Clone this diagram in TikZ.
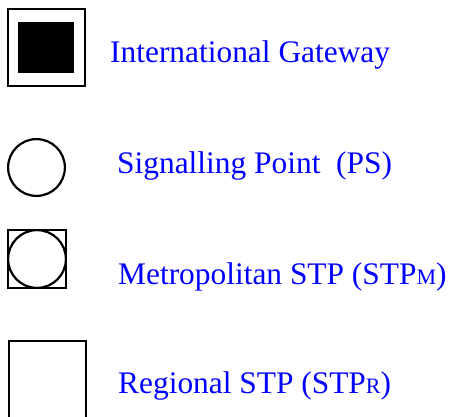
\documentclass[tikz,border=0pt]{standalone}
\usepackage{fontspec}
\setmainfont{Liberation Serif}
\usetikzlibrary{positioning}
\definecolor{labelblue}{RGB}{0,0,255}

\begin{document}
\begin{tikzpicture}[
  x=1pt, y=-1pt,
  symbol/.style={draw=black, line width=2.2pt, inner sep=0pt},
  squarebox/.style={symbol, rectangle, minimum size=#1},
  roundbox/.style={symbol, circle, minimum size=#1},
  legend/.style={anchor=base west, inner sep=0pt, text=labelblue,
                 font=\fontsize{31.4}{36}\selectfont}
]
  \clip (0,0) rectangle (454,416);

  % international gateway
  \node[squarebox=77.1pt] (gw) at (46.4,47.8) {};
  \node[fill=black, inner sep=0pt, minimum width=56.6pt, minimum height=51.3pt] (gwcore) at (46,47.7) {};
  \node[legend] (gwtext) at (110,62) {International Gateway};

  % signalling point
  \node[roundbox=56.8pt] (sp) at (36.5,167.5) {};
  \node[legend] (sptext) at (117,173) {Signalling Point\ \ (PS)};

  % metropolitan STP
  \node[squarebox=57.8pt] (stpm) at (37,259) {};
  \node[roundbox=57.8pt] (stpmring) at (stpm.center) {};
  \node[legend] (stpmtext) at (118,284) {Metropolitan STP (STP{\fontsize{22}{24}\selectfont M})};

  % regional STP
  \node[symbol, rectangle, minimum width=77.1pt, minimum height=90pt, anchor=north west] (stpr) at (7.8,340.1) {};
  \node[legend] (stprtext) at (118,393) {Regional STP (STP{\fontsize{22}{24}\selectfont R})};
\end{tikzpicture}
\end{document}
